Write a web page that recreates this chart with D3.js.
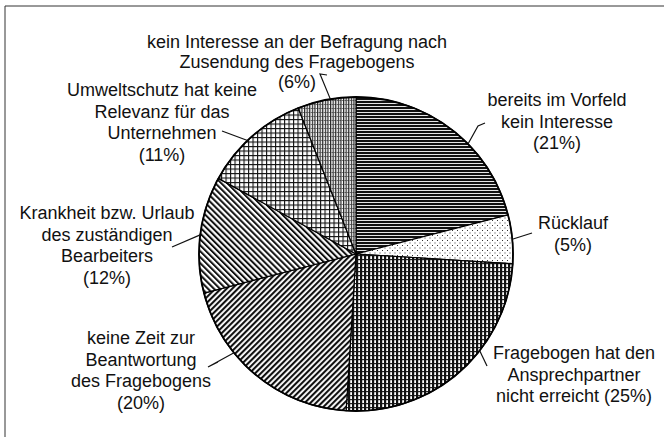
<!DOCTYPE html>
<html>
<head>
<meta charset="utf-8">
<script src="https://cdn.jsdelivr.net/npm/d3@7"></script>
<style>
  html, body { margin: 0; padding: 0; background: #fff; }
  svg { display: block; }
  text { font-family: "Liberation Sans", Arial, sans-serif; font-size: 18px; fill: #111; }
</style>
</head>
<body>
<div id="chart"></div>
<script>
// slices, clockwise from 12 o'clock
const categories = [
    "bereits im Vorfeld kein Interesse",
    "Rücklauf",
    "Fragebogen hat den Ansprechpartner nicht erreicht",
    "keine Zeit zur Beantwortung des Fragebogens",
    "Krankheit bzw. Urlaub des zuständigen Bearbeiters",
    "Umweltschutz hat keine Relevanz für das Unternehmen",
    "kein Interesse an der Befragung nach Zusendung des Fragebogens"
];
const values = [21, 5, 25, 20, 12, 11, 6];
const labelLines = [
    ["bereits im Vorfeld", "kein Interesse"],
    ["Rücklauf"],
    ["Fragebogen hat den", "Ansprechpartner", "nicht erreicht"],
    ["keine Zeit zur", "Beantwortung", "des Fragebogens"],
    ["Krankheit bzw. Urlaub", "des zuständigen", "Bearbeiters"],
    ["Umweltschutz hat keine", "Relevanz für das", "Unternehmen"],
    ["kein Interesse an der Befragung nach", "Zusendung des Fragebogens"]
];
// percent on its own line, or appended to the last line
const percentInline = [false, false, true, false, false, false, false];

let conf = {
    div: '#chart',
    width: 664,
    height: 437,
    cx: 356,
    cy: 254,
    r: 157,
    lineHeight: 21.5
};

// label layout: centre x, first line centre y, leader angle on rim (deg), leader end points
const labelLayout = [
    { x: 557, y: 100, angle: 45.5, leader: [[485, 123], [478, 126]] },
    { x: 573, y: 223, angle: 84.6, leader: [[532, 233]] },
    { x: 574, y: 353, angle: 128, leader: [[487, 366]] },
    { x: 141, y: 338, angle: 231, leader: [[218, 362], [208, 367]] },
    { x: 107, y: 213, angle: 277, leader: [[172, 247]] },
    { x: 162, y: 90, angle: 316.3, leader: [[222, 131]] },
    { x: 297, y: 42, angle: 350.6, leader: [[327, 75], [320, 74]], spacing: 20 }
];

const svg = d3.select(conf.div)
    .append('svg')
    .attr('width', conf.width)
    .attr('height', conf.height);

// fill patterns
const defs = svg.append('defs');

function pattern(id, w, h, transform) {
    let p = defs.append('pattern')
        .attr('id', id)
        .attr('patternUnits', 'userSpaceOnUse')
        .attr('width', w)
        .attr('height', h);
    if (transform) p.attr('patternTransform', transform);
    p.append('rect').attr('width', w).attr('height', h).attr('fill', '#fff');
    return p;
}

// horizontal lines
let p0 = pattern('p0', 6, 3);
p0.append('rect').attr('width', 6).attr('height', 2.1).attr('fill', '#111');
// sparse dots
let p1 = pattern('p1', 5, 5);
p1.append('rect').attr('x', 1).attr('y', 1).attr('width', 1).attr('height', 1).attr('fill', '#333');
p1.append('rect').attr('x', 3.5).attr('y', 3.5).attr('width', 1).attr('height', 1).attr('fill', '#333');
// vertical beaded bars
let p2 = pattern('p2', 4, 4);
p2.append('rect').attr('width', 2.2).attr('height', 4).attr('fill', '#111');
p2.append('rect').attr('x', 2).attr('y', 1).attr('width', 2).attr('height', 1.2).attr('fill', '#222');
// "/" diagonals
let p3 = pattern('p3', 4, 4, 'rotate(45)');
p3.append('rect').attr('width', 2.1).attr('height', 4).attr('fill', '#111');
// "\" diagonals
let p4 = pattern('p4', 4.2, 4, 'rotate(-45)');
p4.append('rect').attr('width', 2.0).attr('height', 4).attr('fill', '#111');
// grid
let p5 = pattern('p5', 4.5, 4.5);
p5.append('rect').attr('width', 4.5).attr('height', 1.1).attr('fill', '#111');
p5.append('rect').attr('width', 1.1).attr('height', 4.5).attr('fill', '#111');
// fine vertical lines
let p6 = pattern('p6', 2.6, 4);
p6.append('rect').attr('width', 1.2).attr('height', 4).attr('fill', '#222');
p6.append('rect').attr('x', 1.2).attr('y', 2).attr('width', 1.4).attr('height', 1).attr('fill', '#777');

// frame
svg.append('path')
    .attr('d', `M5,${conf.height} V6 H${conf.width}`)
    .attr('fill', 'none')
    .attr('stroke', '#333')
    .attr('stroke-width', 1);

const g = svg.append('g')
    .attr('transform', `translate(${conf.cx},${conf.cy})`);

const pie = d3.pie().sort(null).value(d => d)(values);
const arc = d3.arc().innerRadius(0).outerRadius(conf.r);

g.selectAll('path.slice')
    .data(pie)
    .enter()
    .append('path')
    .attr('class', 'slice')
    .attr('d', arc)
    .attr('fill', (d, i) => `url(#p${i})`)
    .attr('stroke', '#000')
    .attr('stroke-width', 1.2)
    .attr('stroke-linejoin', 'round');

// outer rim
g.append('circle')
    .attr('r', conf.r)
    .attr('fill', 'none')
    .attr('stroke', '#000')
    .attr('stroke-width', 1.8);

// leaders
const line = d3.line();
labelLayout.forEach((l, i) => {
    let rim = d3.pointRadial(l.angle * Math.PI / 180, conf.r);
    let pts = [[rim[0] + conf.cx, rim[1] + conf.cy]].concat(l.leader.slice().reverse());
    svg.append('path')
        .attr('d', line(pts))
        .attr('fill', 'none')
        .attr('stroke', '#111')
        .attr('stroke-width', 1.2);
});

// labels
labelLayout.forEach((l, i) => {
    let lines = labelLines[i].slice();
    let pct = `(${values[i]}%)`;
    if (percentInline[i]) lines[lines.length - 1] += ' ' + pct;
    else lines.push(pct);
    let step = l.spacing || conf.lineHeight;
    let t = svg.append('text')
        .attr('text-anchor', 'middle');
    lines.forEach((s, k) => {
        t.append('tspan')
            .attr('x', l.x)
            .attr('y', l.y + k * step + 6)
            .text(s);
    });
});
</script>
</body>
</html>
